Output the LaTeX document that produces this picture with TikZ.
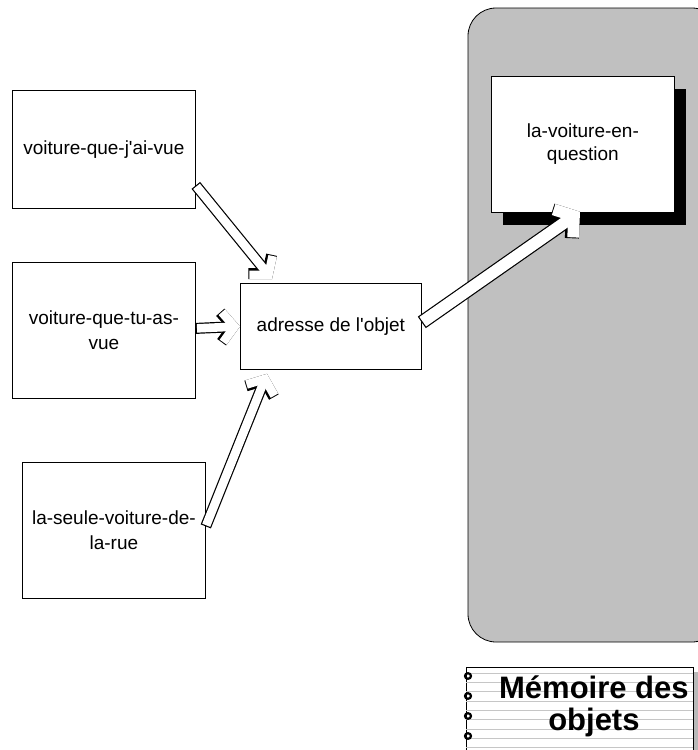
\documentclass[tikz,border=0pt]{standalone}
\usepackage{fontspec}
\setmainfont{Liberation Sans}[Ligatures=TeXOff]
\usetikzlibrary{
    arrows.meta,
    positioning,
    shadows,
    calc
}
\definecolor{memgray}{RGB}{192,192,192}
\tikzset{
    varbox/.style = {rectangle, draw, thick, fill=white, align=center,
      minimum width=183pt, minimum height=118pt,
      font=\fontsize{19}{25}\selectfont},
    hollow/.style = {draw=black, line width=11pt,
      -{Straight Barb[length=12pt, width=30pt]},
      postaction={draw=white, line width=8.6pt, shorten <=1.2pt,
        -{Straight Barb[length=12pt, width=30pt]}}},
    bighollow/.style = {draw=black, line width=14pt,
      -{Straight Barb[length=13pt, width=34pt]},
      postaction={draw=white, line width=11.6pt, shorten <=1.2pt,
        -{Straight Barb[length=13pt, width=34pt]}}}
  }

\begin{document}
\begin{tikzpicture}[x=1pt,y=-1pt]
\useasboundingbox (0,0) rectangle (698,750);

% memoire des objets
\draw[thick, fill=memgray, rounded corners=28pt]
  (468,8) rectangle (720,642);
\clip (0,0) rectangle (698,750);

\node[varbox, anchor=north west, minimum height=136pt,
      font=\fontsize{19}{23}\selectfont,
      drop shadow={shadow xshift=12pt, shadow yshift=-13pt,
                   fill=black, opacity=1}]
  at (491,76) (cible) {la-voiture-en-\\question};

% variables
\node[varbox, anchor=north west] at (12,90) (vue_moi) {voiture-que-j'ai-vue};
\node[varbox, anchor=north west, minimum height=136pt]
  at (12,262) (vue_toi) {voiture-que-tu-as-\\vue};
\node[varbox, anchor=north west, minimum height=136pt]
  at (22,462) (rue) {la-seule-voiture-de-\\la-rue};

\node[varbox, anchor=north west, minimum width=181pt, minimum height=86pt]
  at (240,283) (adresse) {adresse de l'objet};

% fleches
\draw[hollow] ($(vue_moi.east)+(0,36)$) -- ($(adresse.north west)+(32,-4)$);
\draw[hollow] ($(vue_toi.east)+(0,-2)$) -- (adresse.west);
\draw[hollow] ($(rue.east)+(0,-4)$) -- ($(adresse.south west)+(27,4)$);
\draw[bighollow] ($(adresse.east)+(0,-4)$) -- ($(cible.south west)+(89,-1)$);

% etiquette
\fill[gray!55] (693,672) rectangle (698,750);
\node[rectangle, draw, thick, fill=white, anchor=north west,
      minimum width=227pt, minimum height=84pt]
  at (466,667) (etiquette) {};
\foreach \k in {0,...,8}
  \draw[gray!45] ($(etiquette.north west)+(0,6+\k*9.3)$)
    -- ++(227,0);
\foreach \k in {0,...,3}
  \draw[line width=2.2pt] ($(etiquette.north west)+(2,9+\k*20)$)
    ellipse (3pt and 2.8pt);
\node[font=\bfseries\fontsize{31}{32}\selectfont, align=center]
  at ($(etiquette.center)+(14,-3)$) {Mémoire des\\objets};

\end{tikzpicture}
\end{document}
